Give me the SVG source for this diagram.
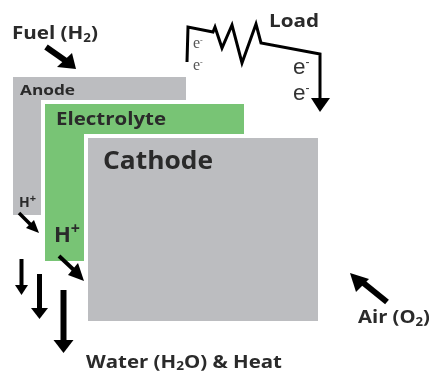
<svg xmlns="http://www.w3.org/2000/svg" width="431" height="374" viewBox="0 0 431 374">
<style>
text{font-family:"Open Sans","Liberation Sans",sans-serif;font-weight:700;fill:#2a2a2a}
.plate{fill:#bcbdc0}
.green{fill:#78c474}
.gap{stroke:#fff;stroke-width:4}
.ar{stroke:#000;fill:none;stroke-linecap:butt}
.hd{fill:#000}
.el{font-family:"Liberation Serif","Open Sans",serif;font-weight:400;fill:#555}
.ee{font-family:"Liberation Sans",sans-serif;font-weight:400;fill:#333}
</style>
<defs><filter id="soft" x="-5%" y="-5%" width="110%" height="110%"><feGaussianBlur stdDeviation="0.6"/></filter></defs>
<rect width="431" height="374" fill="#fff"/>
<g filter="url(#soft)">
<g id="anode">
<rect class="plate" x="13" y="77" width="173" height="138"/>
<text x="20" y="95" font-size="15" textLength="55" lengthAdjust="spacingAndGlyphs">Anode</text>
<text x="19" y="207" font-size="14">H<tspan dy="-5" font-size="11">+</tspan></text>
</g>
<g id="electrolyte">
<rect class="green gap" x="43" y="102" width="203" height="161"/>
<text x="56" y="125" font-size="18.500" textLength="110" lengthAdjust="spacingAndGlyphs">Electrolyte</text>
<text x="54" y="242" font-size="22">H<tspan dy="-8" font-size="16">+</tspan></text>
</g>
<g id="cathode">
<rect class="plate gap" x="86" y="136" width="234" height="187"/>
<text x="103" y="169" font-size="25.500" textLength="110" lengthAdjust="spacingAndGlyphs">Cathode</text>
</g>
<g id="load">
<text x="269" y="27" font-size="18.500" textLength="50" lengthAdjust="spacingAndGlyphs">Load</text>
<text class="el" x="193" y="48" font-size="16">e<tspan dy="-5" font-size="8">-</tspan></text>
<text class="el" x="193" y="70" font-size="16">e<tspan dy="-5" font-size="8">-</tspan></text>
<text class="ee" x="293" y="74" font-size="22.500">e<tspan dy="-8" font-size="12">-</tspan></text>
<text class="ee" x="293" y="100" font-size="22.500">e<tspan dy="-8" font-size="12">-</tspan></text>
</g>
<g id="fuel"><text x="12" y="39" font-size="18.500" textLength="86" lengthAdjust="spacingAndGlyphs">Fuel (H<tspan dy="3" font-size="12">2</tspan><tspan dy="-3">)</tspan></text></g>
<g id="air"><text x="358" y="323" font-size="18.500" textLength="72" lengthAdjust="spacingAndGlyphs">Air (O<tspan dy="3" font-size="12">2</tspan><tspan dy="-3">)</tspan></text></g>
<g id="water"><text x="86" y="368" font-size="18" textLength="196" lengthAdjust="spacingAndGlyphs">Water (H<tspan dy="2" font-size="12">2</tspan><tspan dy="-2">O) &amp; Heat</tspan></text></g>
<g id="connectors">
<polyline class="ar" stroke-width="3" stroke-linejoin="miter" points="187,62 188,27 213,32 215,27 222,48 232,25 242,63 256,24 261,43 320,54 320,100"/>
<polygon class="hd" points="311,98 330,98 320,112"/>
<line class="ar" stroke-width="6" x1="46" y1="47" x2="66" y2="61"/>
<polygon class="hd" points="57,67 72,53 76,69"/>
<line class="ar" stroke-width="6" x1="387" y1="302" x2="361" y2="281"/>
<polygon class="hd" points="350,273 369,279 356,292"/>
<line class="ar" stroke-width="3.500" x1="19" y1="213" x2="33" y2="227"/>
<polygon class="hd" points="39,233 26,228 34,220"/>
<line class="ar" stroke-width="4" x1="59" y1="256" x2="76" y2="272"/>
<polygon class="hd" points="84,281 68,275 78,263"/>
<line class="ar" stroke-width="4" x1="21.500" y1="259" x2="21.500" y2="286"/>
<polygon class="hd" points="15,285 28,285 21.500,295"/>
<line class="ar" stroke-width="5" x1="39.500" y1="274" x2="39.500" y2="310"/>
<polygon class="hd" points="31,308 48,308 39.500,319"/>
<line class="ar" stroke-width="6" x1="63.500" y1="290" x2="63.500" y2="342"/>
<polygon class="hd" points="53.500,340 73.500,340 63.500,353"/>
</g>
</g>
</svg>
